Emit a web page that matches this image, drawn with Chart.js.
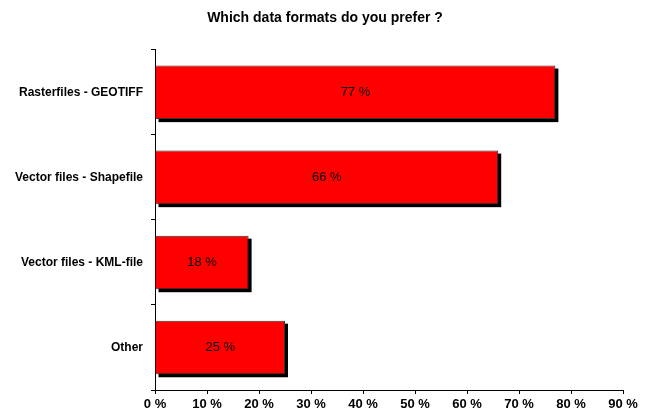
<!DOCTYPE html>
<html>
<head>
<meta charset="utf-8">
<script src="https://cdn.jsdelivr.net/npm/chart.js@4"></script>
<style>
  html, body { margin: 0; padding: 0; background: #fff; }
  #wrap { width: 650px; height: 412px; }
</style>
</head>
<body>
<div id="wrap"><canvas id="chart" width="650" height="412"></canvas></div>
<script>
const categories = ['Rasterfiles - GEOTIFF', 'Vector files - Shapefile', 'Vector files - KML-file', 'Other'];
const shares = [77, 66, 18, 25];
const xTicks = [0, 10, 20, 30, 40, 50, 60, 70, 80, 90];

const FONT = 'Arial, "Liberation Sans", sans-serif';

// --- Custom plugin: black drop shadow behind bars + value labels inside ---
const barShadow = {
  id: 'barShadow',
  beforeDatasetsDraw(chart) {
    const { ctx } = chart;
    const meta = chart.getDatasetMeta(0);
    ctx.save();
    ctx.fillStyle = '#000';
    meta.data.forEach(bar => {
      const left = Math.min(bar.base, bar.x);
      const w = Math.abs(bar.x - bar.base);
      const top = bar.y - bar.height / 2;
      ctx.fillRect(left + 3, top + 3, w, bar.height);
    });
    ctx.restore();
  },
  afterDatasetsDraw(chart) {
    const { ctx } = chart;
    const meta = chart.getDatasetMeta(0);
    ctx.save();
    ctx.font = '13px ' + FONT;
    ctx.fillStyle = '#000';
    ctx.textAlign = 'center';
    ctx.textBaseline = 'middle';
    meta.data.forEach((bar, i) => {
      const cx = (bar.base + bar.x) / 2;
      ctx.fillText(shares[i] + ' %', cx, bar.y);
    });
    ctx.restore();
  }
};

new Chart(document.getElementById('chart'), {
  type: 'bar',
  data: {
    labels: categories,
    datasets: [{
      data: shares,
      backgroundColor: '#ff0000',
      borderColor: '#333',
      borderWidth: 1,
      barPercentage: 0.63,
      categoryPercentage: 1
    }]
  },
  options: {
    indexAxis: 'y',
    responsive: false,
    animation: false,
    events: [],
    layout: { padding: 0 },
    plugins: {
      legend: { display: false },
      tooltip: { enabled: false },
      title: {
        display: true,
        text: 'Which data formats do you prefer ?',
        color: '#000',
        font: { family: FONT, size: 14, weight: 'bold' },
        padding: { top: 10, bottom: 23 }
      }
    },
    scales: {
      x: {
        min: 0,
        max: 90,
        afterBuildTicks: s => { s.ticks = xTicks.map(v => ({ value: v })); },
        afterFit: s => { s.height = 22; s.paddingLeft = 0; s.paddingRight = 27; },
        grid: { drawOnChartArea: false, tickLength: 4, color: '#000' },
        border: { color: '#000', width: 1 },
        ticks: {
          color: '#000',
          padding: 3,
          maxRotation: 0,
          font: { family: FONT, size: 13, weight: 'bold' },
          callback: v => v + ' %'
        }
      },
      y: {
        offset: true,
        afterFit: s => { s.width = 155; },
        grid: { offset: true, drawOnChartArea: false, tickLength: 4, color: '#000' },
        border: { color: '#000', width: 1 },
        ticks: {
          color: '#000',
          padding: 8,
          font: { family: FONT, size: 12, weight: 'bold' }
        }
      }
    }
  },
  plugins: [barShadow]
});
</script>
</body>
</html>
